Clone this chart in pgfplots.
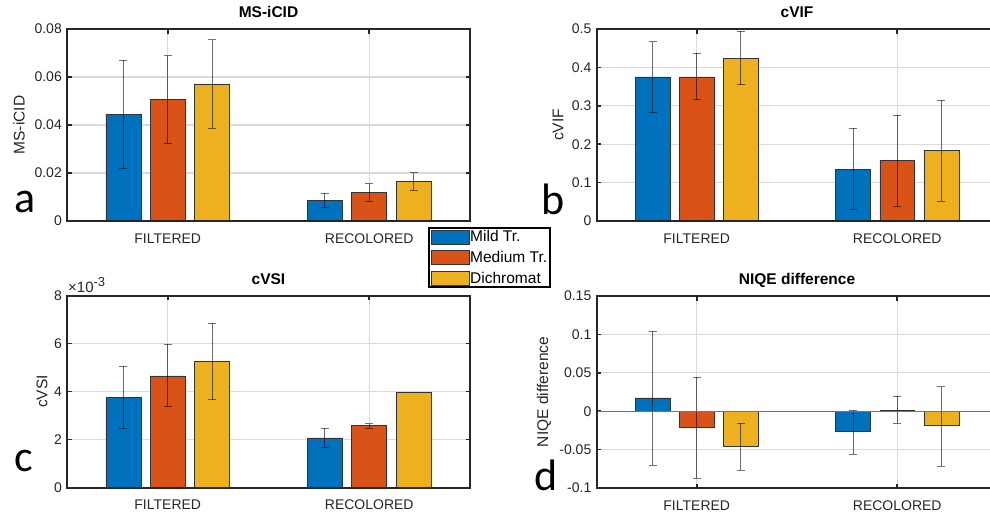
\documentclass[border=0pt]{standalone}
\usepackage{pgfplots}
\pgfplotsset{compat=1.18}
\usepackage{fontspec}
\setmainfont{Liberation Sans}
\newfontfamily\carlito{Carlito}
\definecolor{mblue}{HTML}{0072BD}
\definecolor{morange}{HTML}{D95319}
\definecolor{myellow}{HTML}{EDB120}
\definecolor{axc}{HTML}{262626}
\definecolor{gridc}{HTML}{DADADA}
\pgfplotsset{
  panel/.style={
    scale only axis, height=192pt,
    xmin=0.5, xmax=2.5, xtick={1,2}, xticklabels={FILTERED,RECOLORED},
    xtick pos=both, ytick pos=both, xticklabel pos=lower, yticklabel pos=left,
    tick align=inside, major tick length=4.5pt,
    tick style={axc, line width=1.6pt},
    axis line style={axc, line width=2pt},
    xmajorgrids, ymajorgrids, grid style={gridc, line width=1.3pt},
    ticklabel style={font=\fontsize{14}{14}\selectfont, text=axc},
    xticklabel style={anchor=base, yshift=-22pt, inner sep=0pt},
    yticklabel style={anchor=east, inner sep=0pt, xshift=-5pt},
    title style={at={(axis description cs:0.5,1)}, anchor=base, yshift=5.5pt, font=\bfseries\fontsize{15.5}{15.5}\selectfont, text=black},
    ylabel style={anchor=center, font=\fontsize{15.5}{15.5}\selectfont, text=axc},
    scaled y ticks=false,
    /pgf/number format/assume math mode=true,
  },
  bars/.style={ybar, bar width=0.174, bar shift=0pt, fill=#1, draw=black!80, line width=0.6pt,
    legend image code/.code={\draw[##1, line width=0.7pt] (0pt,-7pt) rectangle (38pt,7pt);},
    error bars/y dir=both, error bars/y explicit,
    error bars/error mark=|,
    error bars/error bar style={black, opacity=0.55, line width=0.9pt},
    error bars/error mark options={black, opacity=0.55, line width=0.9pt, mark size=4pt}},
}
\begin{document}
\begin{tikzpicture}
\path[use as bounding box] (0,0) rectangle (990pt,512pt);

% ---------------- a: MS-iCID
\begin{axis}[panel, name=A, at={(67pt,291pt)}, anchor=south west, width=403pt,
  title={MS-iCID}, ylabel={MS-iCID},
  ylabel style={at={(axis description cs:-0.119,0.5)}},
  ymin=0, ymax=0.08, ytick={0,0.02,0.04,0.06,0.08}, yticklabels={0,0.02,0.04,0.06,0.08},
  legend style={at={(axis description cs:0.8958,-0.03125)}, anchor=north west, draw=black, line width=2pt,
    font=\fontsize{15.5}{15.5}\selectfont, inner sep=1.5pt, row sep=6pt, nodes={inner sep=1pt, text=black},
    /tikz/every even column/.append style={column sep=3pt}},
  legend cell align=left]
\addplot[bars=mblue] coordinates {(0.78,0.0445) += (0,0.0225) -= (0,0.0228) (1.78,0.0086) += (0,0.0029) -= (0,0.0030)};
\addplot[bars=morange] coordinates {(1,0.0507) += (0,0.0182) -= (0,0.0182) (2,0.0118) += (0,0.0037) -= (0,0.0037)};
\addplot[bars=myellow] coordinates {(1.22,0.0571) += (0,0.0184) -= (0,0.0185) (2.22,0.0164) += (0,0.0037) -= (0,0.0035)};
\legend{Mild Tr.,Medium Tr.,Dichromat}
\end{axis}
\draw[axc, line width=2pt] (A.south west) rectangle (A.north east);

% ---------------- b: cVIF
\begin{axis}[panel, name=B, at={(596.5pt,291pt)}, anchor=south west, width=401pt,
  title={cVIF}, ylabel={cVIF},
  ylabel style={at={(axis description cs:-0.096,0.5)}},
  ymin=0, ymax=0.5, ytick={0,0.1,0.2,0.3,0.4,0.5}, yticklabels={0,0.1,0.2,0.3,0.4,0.5}]
\addplot[bars=mblue] coordinates {(0.78,0.3754) += (0,0.092) -= (0,0.092) (1.78,0.135) += (0,0.107) -= (0,0.105)};
\addplot[bars=morange] coordinates {(1,0.3754) += (0,0.062) -= (0,0.060) (2,0.157) += (0,0.119) -= (0,0.1195)};
\addplot[bars=myellow] coordinates {(1.22,0.424) += (0,0.070) -= (0,0.069) (2.22,0.183) += (0,0.132) -= (0,0.132)};
\end{axis}
\draw[axc, line width=2pt] (B.south west) rectangle (B.north east);

% ---------------- c: cVSI
\begin{axis}[panel, name=C, at={(67pt,24.5pt)}, anchor=south west, width=403pt,
  title={cVSI}, ylabel={cVSI},
  ylabel style={at={(axis description cs:-0.062,0.5)}},
  ymin=0, ymax=0.008, ytick={0,0.002,0.004,0.006,0.008}, yticklabels={0,2,4,6,8}]
\addplot[bars=mblue] coordinates {(0.78,0.00377) += (0,0.00128) -= (0,0.00131) (1.78,0.00207) += (0,0.00039) -= (0,0.00040)};
\addplot[bars=morange] coordinates {(1,0.00465) += (0,0.00131) -= (0,0.00128) (2,0.00258) += (0,0.00008) -= (0,0.00012)};
\addplot[bars=myellow] coordinates {(1.22,0.00524) += (0,0.00161) -= (0,0.00159) (2.22,0.00395)};
\end{axis}
\draw[axc, line width=2pt] (C.south west) rectangle (C.north east);
\node[anchor=base west, inner sep=0pt, font=\fontsize{15}{15}\selectfont, text=axc] at (68pt,219.5pt) {×10\raisebox{0.42em}{\fontsize{13}{13}\selectfont -3}};

% ---------------- d: NIQE difference
\begin{axis}[panel, name=D, at={(596.5pt,24pt)}, anchor=south west, width=401pt,
  title={NIQE difference}, ylabel={NIQE difference},
  ylabel style={at={(axis description cs:-0.131,0.5)}},
  ymin=-0.1, ymax=0.15, ytick={-0.1,-0.05,0,0.05,0.1,0.15}, yticklabels={-0.1,-0.05,0,0.05,0.1,0.15}]
\addplot[bars=mblue] coordinates {(0.78,0.0173) += (0,0.0867) -= (0,0.0878) (1.78,-0.0268) += (0,0.0281) -= (0,0.0294)};
\addplot[bars=morange] coordinates {(1,-0.0212) += (0,0.0658) -= (0,0.0662) (2,0.0010) += (0,0.0185) -= (0,0.0170)};
\addplot[bars=myellow] coordinates {(1.22,-0.0463) += (0,0.0303) -= (0,0.0303) (2.22,-0.0186) += (0,0.0506) -= (0,0.0528)};
\draw[black!55, line width=0.8pt] (axis cs:0.5,0) -- (axis cs:2.5,0);
\end{axis}
\draw[axc, line width=2pt] (D.south west) rectangle (D.north east);

% panel letters
\node[anchor=base west, inner sep=0pt, font=\carlito\fontsize{44}{44}\selectfont] at (14pt,299pt) {a};
\node[anchor=base west, inner sep=0pt, font=\carlito\fontsize{44}{44}\selectfont] at (541pt,297pt) {b};
\node[anchor=base west, inner sep=0pt, font=\carlito\fontsize{44}{44}\selectfont] at (14pt,41pt) {c};
\node[anchor=base west, inner sep=0pt, font=\carlito\fontsize{44}{44}\selectfont] at (534pt,22pt) {d};
\end{tikzpicture}
\end{document}
